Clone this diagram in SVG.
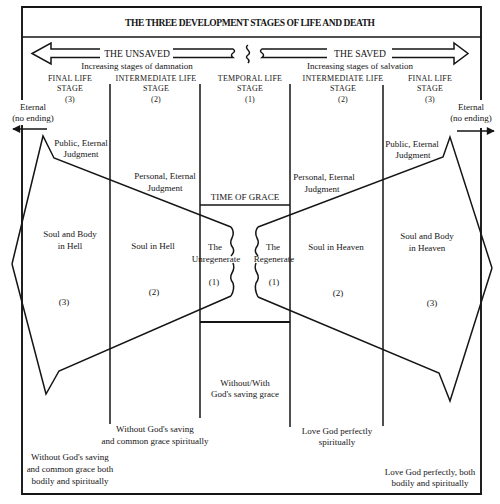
<svg xmlns="http://www.w3.org/2000/svg" width="500" height="504" viewBox="0 0 500 504">
<style>
text{font-family:"Liberation Serif","Times New Roman",serif;fill:#151515;text-anchor:middle}
.t{font-size:9px}
.h{font-size:8px;letter-spacing:0.2px}
.big{font-size:9.6px}
.ln{stroke:#151515;stroke-width:1.5;fill:none}
.thk{stroke:#151515;stroke-width:1.9;fill:none}
</style>
<defs>
<marker id="ah" viewBox="0 0 10 10" refX="9" refY="5" markerWidth="10" markerHeight="8" markerUnits="userSpaceOnUse" orient="auto"><path d="M0,0 L10,5 L0,10 z" fill="#151515"/></marker>
</defs>
<rect width="500" height="504" fill="#ffffff"/>

<g id="frame">
<path class="thk" d="M22,100 L22,7 L481,7 L481,100 M22,125 L22,494 L481,494 L481,128"/>
<line class="ln" x1="22" y1="37" x2="481" y2="37"/>
</g>

<g id="title">
<text x="250" y="26" font-size="9.5" font-weight="bold" textLength="250" lengthAdjust="spacing">THE THREE DEVELOPMENT STAGES OF LIFE AND DEATH</text>
</g>

<g id="unsaved">
<path class="ln" d="M100,49 L51,49 L51,43 L32,53.5 L51,64 L51,57.5 L100,57.5"/>
<path class="ln" d="M173,49 L233,49 Q236,51 233,53 Q230,55 233,57.5 L173,57.5"/>
<text class="big" x="137" y="57">THE UNSAVED</text>
<text class="t" x="137" y="69">Increasing stages of damnation</text>
</g>

<g id="divider">
<path class="ln" d="M248,45 Q245,47 248,50 Q251,53 248,55 Q245,57 248,59 Q250,61 248,63"/>
</g>

<g id="saved">
<path class="ln" d="M327,49 L262,49 Q259,51 262,53 Q265,55 262,57.5 L327,57.5"/>
<path class="ln" d="M392,49 L454,49 L454,43 L468,53.5 L454,64 L454,57.5 L392,57.5"/>
<text class="big" x="360" y="57">THE SAVED</text>
<text class="t" x="360" y="69">Increasing stages of salvation</text>
</g>

<g id="headings">
<text class="h" x="70" y="81">FINAL LIFE</text>
<text class="h" x="70" y="91">STAGE</text>
<text class="h" x="70" y="102">(3)</text>
<text class="h" x="156" y="81">INTERMEDIATE LIFE</text>
<text class="h" x="156" y="91">STAGE</text>
<text class="h" x="156" y="102">(2)</text>
<text class="h" x="250" y="81">TEMPORAL LIFE</text>
<text class="h" x="250" y="91">STAGE</text>
<text class="h" x="250" y="102">(1)</text>
<text class="h" x="343" y="81">INTERMEDIATE LIFE</text>
<text class="h" x="343" y="91">STAGE</text>
<text class="h" x="343" y="102">(2)</text>
<text class="h" x="430" y="81">FINAL LIFE</text>
<text class="h" x="430" y="91">STAGE</text>
<text class="h" x="430" y="102">(3)</text>
</g>

<g id="eternal-left">
<text class="t" x="33" y="110">Eternal</text>
<text class="t" x="33" y="121">(no ending)</text>
<line class="ln" x1="47" y1="129" x2="13" y2="129" marker-end="url(#ah)"/>
</g>
<g id="eternal-right">
<text class="t" x="471" y="110">Eternal</text>
<text class="t" x="471" y="121">(no ending)</text>
<line class="ln" x1="457" y1="131" x2="494" y2="131" marker-end="url(#ah)"/>
</g>

<g id="columns">
<line class="ln" x1="110" y1="84" x2="110" y2="424"/>
<line class="ln" x1="200" y1="84" x2="200" y2="418"/>
<line class="ln" x1="290" y1="84" x2="290" y2="427"/>
<line class="ln" x1="383" y1="85" x2="383" y2="426"/>
</g>

<g id="time-of-grace">
<line class="ln" x1="200" y1="205" x2="290" y2="205"/>
<line class="thk" x1="200" y1="322" x2="290" y2="322"/>
<text class="t" x="245" y="200">TIME OF GRACE</text>
</g>

<g id="connectors">
<path class="ln" d="M12,264 L43,136 L54,158 L231,227"/>
<path class="ln" d="M231,227 Q235,232 232,238 Q229,243 233,248 Q235,252 231,256 M233,263 Q235,268 232,273 Q229,278 233,283 Q235,289 231,296"/>
<path class="ln" d="M231,296 L59,371 L46,394 L12,264"/>
<path class="ln" d="M492,268 L450,137 L443,157 L258,227"/>
<path class="ln" d="M258,227 Q254,232 257,238 Q260,243 256,248 Q254,252 258,256 M256,263 Q254,268 257,273 Q260,278 256,283 Q254,289 258,297"/>
<path class="ln" d="M258,297 L439,373 L450,401 L492,268"/>
</g>

<g id="unsaved-final">
<text class="t" x="81" y="146">Public, Eternal</text>
<text class="t" x="81" y="157">Judgment</text>
<text class="t" x="70" y="237">Soul and Body</text>
<text class="t" x="70" y="249">in Hell</text>
<text class="t" x="64" y="305">(3)</text>
<text class="t" x="70" y="460">Without God's saving</text>
<text class="t" x="70" y="472">and common grace both</text>
<text class="t" x="70" y="484">bodily and spiritually</text>
</g>

<g id="unsaved-intermediate">
<text class="t" x="165" y="179">Personal, Eternal</text>
<text class="t" x="165" y="191">Judgment</text>
<text class="t" x="153" y="249">Soul in Hell</text>
<text class="t" x="154" y="295">(2)</text>
<text class="t" x="155" y="432">Without God's saving</text>
<text class="t" x="155" y="444">and common grace spiritually</text>
</g>

<g id="temporal">
<text class="t" x="215" y="250">The</text>
<text class="t" x="216" y="262" font-size="8.4">Unregenerate</text>
<text class="t" x="214" y="285">(1)</text>
<text class="t" x="273" y="250">The</text>
<text class="t" x="274" y="262" font-size="8.4">Regenerate</text>
<text class="t" x="274" y="285">(1)</text>
<text class="t" x="245" y="386">Without/With</text>
<text class="t" x="245" y="397">God's saving grace</text>
</g>

<g id="saved-intermediate">
<text class="t" x="324" y="180">Personal, Eternal</text>
<text class="t" x="322" y="192">Judgment</text>
<text class="t" x="336" y="250">Soul in Heaven</text>
<text class="t" x="338" y="296">(2)</text>
<text class="t" x="337" y="434">Love God perfectly</text>
<text class="t" x="337" y="445">spiritually</text>
</g>

<g id="saved-final">
<text class="t" x="412" y="147">Public, Eternal</text>
<text class="t" x="413" y="158">Judgment</text>
<text class="t" x="427" y="239">Soul and Body</text>
<text class="t" x="427" y="251">in Heaven</text>
<text class="t" x="432" y="306">(3)</text>
<text class="t" x="430" y="475">Love God perfectly, both</text>
<text class="t" x="430" y="486">bodily and spiritually</text>
</g>
</svg>
